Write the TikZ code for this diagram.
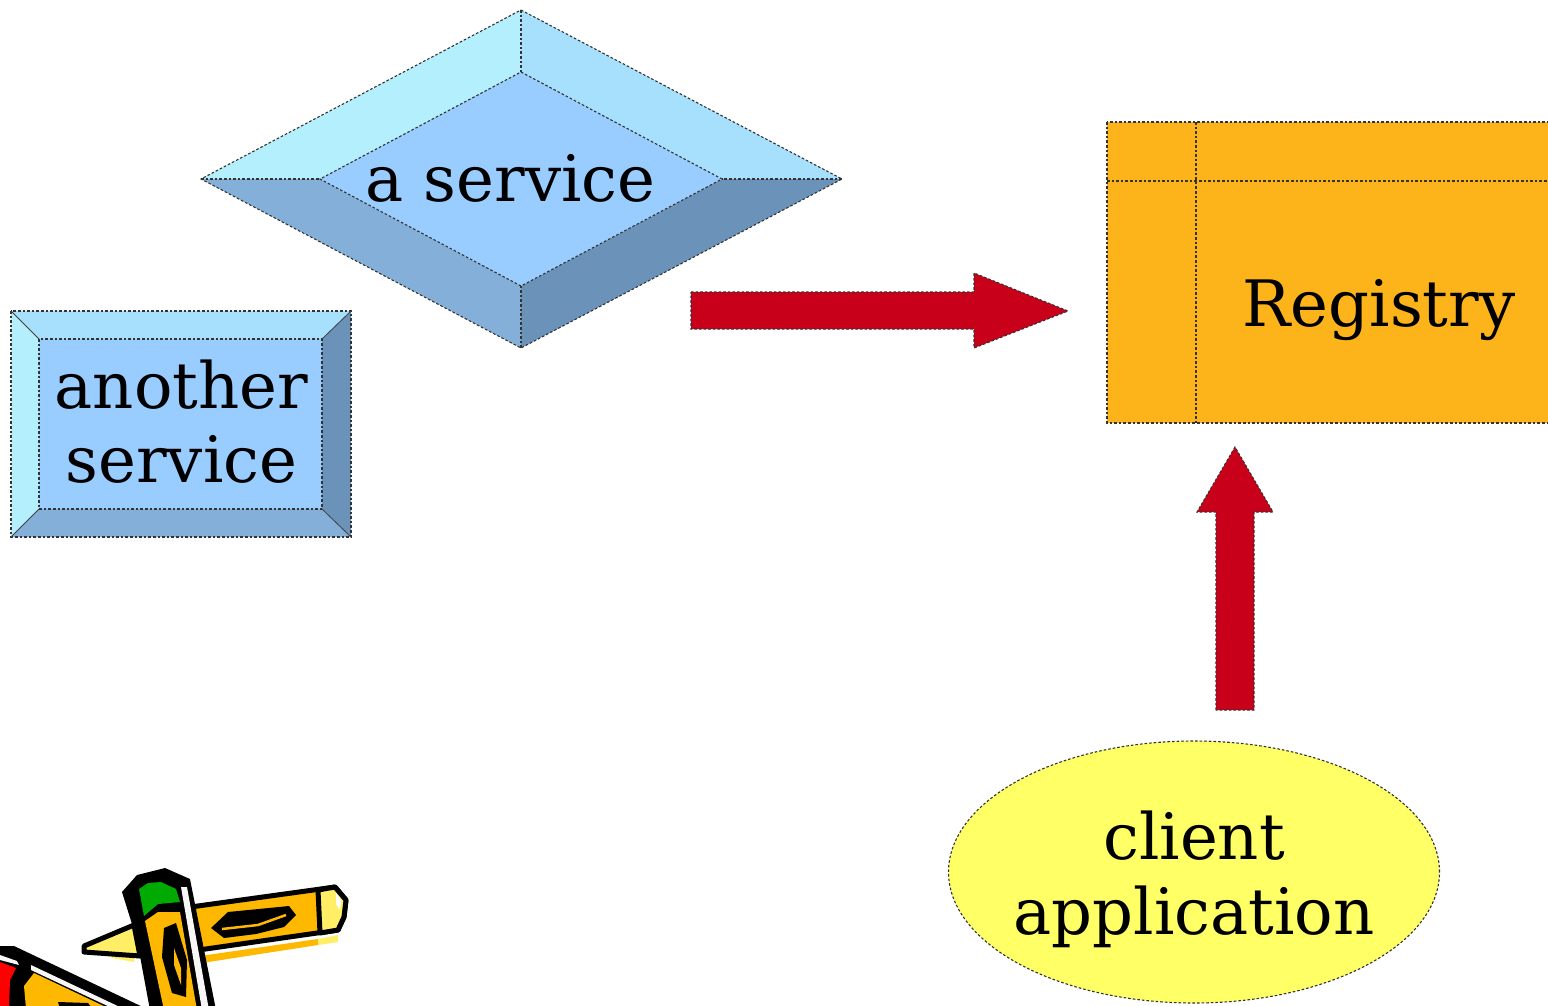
\documentclass[tikz,border=0pt]{standalone}
\usepackage{fontspec}
\setmainfont{DejaVu Serif}
\usetikzlibrary{shapes.geometric}

\definecolor{bevelTL}{HTML}{B3EFFD}
\definecolor{bevelTR}{HTML}{A6E0FC}
\definecolor{bevelBL}{HTML}{83AFD9}
\definecolor{bevelBR}{HTML}{6B92B8}
\definecolor{bevelFace}{HTML}{99CCFF}
\definecolor{regOrange}{HTML}{FDB31A}
\definecolor{arrowRed}{HTML}{C9001A}
\definecolor{clientYellow}{HTML}{FFFF66}
\definecolor{pclOrange}{HTML}{FFB800}
\definecolor{pclLight}{HTML}{FFEE66}
\definecolor{pclGreen}{HTML}{00AA00}
\definecolor{pclRed}{HTML}{FF0000}

\tikzset{
  edge/.style={draw=black!80, line width=1.1pt, dash pattern=on 2.6pt off 2pt},
  label/.style={inner sep=0pt, font=\fontsize{64}{74.5}\selectfont, align=center},
  pencil/.style={draw=black, line width=5pt, line join=round},
  blockarrow/.style={fill=arrowRed, edge}
}

\begin{document}
\begin{tikzpicture}[x=1pt,y=-1pt]
\useasboundingbox (0,0) rectangle (1548,1005);
\begin{scope}
\clip (0,0) rectangle (1548,1005);

% ---- "a service": bevelled diamond ----
\coordinate (dT) at (521,10);   \coordinate (dL) at (201,179);
\coordinate (dR) at (842,179);  \coordinate (dB) at (521,348);
\coordinate (iT) at (521,72);   \coordinate (iL) at (320,179);
\coordinate (iR) at (722,179);  \coordinate (iB) at (521,286);
\fill[bevelTL] (dT) -- (dL) -- (iL) -- (iT) -- cycle;
\fill[bevelTR] (dT) -- (dR) -- (iR) -- (iT) -- cycle;
\fill[bevelBL] (dB) -- (dL) -- (iL) -- (iB) -- cycle;
\fill[bevelBR] (dB) -- (dR) -- (iR) -- (iB) -- cycle;
\fill[bevelFace] (iT) -- (iR) -- (iB) -- (iL) -- cycle;
\path[edge] (dT) -- (dR) -- (dB) -- (dL) -- cycle;
\path[edge] (iT) -- (iR) -- (iB) -- (iL) -- cycle;
\path[edge] (dT) -- (iT) (dL) -- (iL) (dR) -- (iR) (dB) -- (iB);
\node[label, anchor=base] (svc) at (510.5,201) {a service};

% ---- "another service": bevelled box ----
\coordinate (oNW) at (11,311);  \coordinate (oNE) at (351,311);
\coordinate (oSE) at (351,537); \coordinate (oSW) at (11,537);
\coordinate (nNW) at (39,339);  \coordinate (nNE) at (322,339);
\coordinate (nSE) at (322,509); \coordinate (nSW) at (39,509);
\fill[bevelTR] (oNW) -- (oNE) -- (nNE) -- (nNW) -- cycle;
\fill[bevelTL] (oNW) -- (oSW) -- (nSW) -- (nNW) -- cycle;
\fill[bevelBL] (oSW) -- (oSE) -- (nSE) -- (nSW) -- cycle;
\fill[bevelBR] (oNE) -- (oSE) -- (nSE) -- (nNE) -- cycle;
\fill[bevelFace] (nNW) rectangle (nSE);
\path[edge] (oNW) rectangle (oSE);
\path[edge] (nNW) rectangle (nSE);
\draw[black!75, line width=0.8pt] (oNW) -- (nNW) (oNE) -- (nNE) (oSE) -- (nSE) (oSW) -- (nSW);
\node[label] (svc2) at (181.5,421.5) {another\\service};

% ---- Registry table ----
\coordinate (rNW) at (1107,122);
\coordinate (rSE) at (1600,423);
\fill[regOrange] (rNW) rectangle (rSE);
\path[edge] (rNW) rectangle (rSE);
\path[edge] (1196,122) -- (1196,423);
\path[edge] (1107,181) -- (1600,181);
\node[label, anchor=base] (reg) at (1379,326) {Registry};

% ---- client application ----
\node[ellipse, fill=clientYellow, edge, minimum width=491pt, minimum height=262pt, inner sep=0pt] (client) at (1194,872) {};
\node[label] (clientTxt) at (1194,879.3) {client\\application};

% ---- block arrows ----
\filldraw[blockarrow] (691,292) -- (974,292) -- (974,273) -- (1068,311)
  -- (974,348) -- (974,329) -- (691,329) -- cycle;
\filldraw[blockarrow] (1216,710) -- (1216,512) -- (1197,512) -- (1235,447)
  -- (1273,512) -- (1254,512) -- (1254,710) -- cycle;

% ---- pencils ----
% pencil lying across, point to the left
\fill[pclOrange] (200,956) -- (318,939) -- (318,945) -- (202,963) -- cycle;
\fill[pclLight] (318,939) -- (338,935) -- (338,942) -- (318,945) -- cycle;
\fill[pclLight] (108,954) -- (134,957) -- (134,962) -- (112,958) -- cycle;
\filldraw[fill=pclOrange, pencil] (140,914) -- (335,887) -- (346,900)
  -- (344,917) -- (338,930) -- (150,957) -- cycle;
\filldraw[fill=pclLight, pencil] (318,890) -- (335,887) -- (346,900)
  -- (344,917) -- (338,930) -- (320,933) -- cycle;
\fill[white] (336,893) -- (341,900) -- (340,910) -- (336,904) -- cycle;
\fill[black] (211,928) -- (228,912) -- (289,906) -- (296,915) -- (284,927)
  -- (256,934) -- (224,938) -- cycle;
\draw[pclOrange, line width=2.5pt] (222,929) -- (258,925) -- (286,915);
\filldraw[fill=pclLight, pencil] (84,946) -- (134,925) -- (140,956) -- (84,952) -- cycle;

% upright pencil with green eraser
\fill[black] (122,892) -- (137,875) -- (165,868) -- (190,879) -- (216,1010)
  -- (150,1010) -- (137,940) -- cycle;
\fill[white!97!black] (181,887) -- (187,887) -- (209,1010) -- (202,1010) -- cycle;
\fill[pclGreen] (139,889) -- (148,883) -- (161,882) -- (176,889) -- (180,902)
  -- (158,904) -- (144,916) -- cycle;
\fill[pclOrange] (145,921) -- (158,912) -- (180,912) -- (197,1010) -- (164,1010) -- cycle;
\fill[black] (164,928) -- (176,923) -- (187,960) -- (186,997) -- (172,993)
  -- (162,957) -- cycle;
\fill[pclOrange] (174,948) -- (181,968) -- (181,985) -- (174,965) -- cycle;

% pencil at the lower left
\fill[black] (0,946) -- (14,946) -- (145,1008) -- (0,1008) -- cycle;
\fill[white!97!black] (0,955) -- (17,961) -- (19,965) -- (0,960) -- cycle;
\fill[white!97!black] (31,965) -- (122,1008) -- (112,1008) -- (31,970) -- cycle;
\fill[pclRed] (0,962) -- (16,968) -- (10,980) -- (9,1008) -- (0,1008) -- cycle;
\fill[pclOrange] (34,973) -- (108,1008) -- (26,1008) -- (24,986) -- cycle;
\fill[black] (58,1002) -- (88,1003) -- (92,1008) -- (60,1008) -- cycle;
\end{scope}
\end{tikzpicture}
\end{document}
